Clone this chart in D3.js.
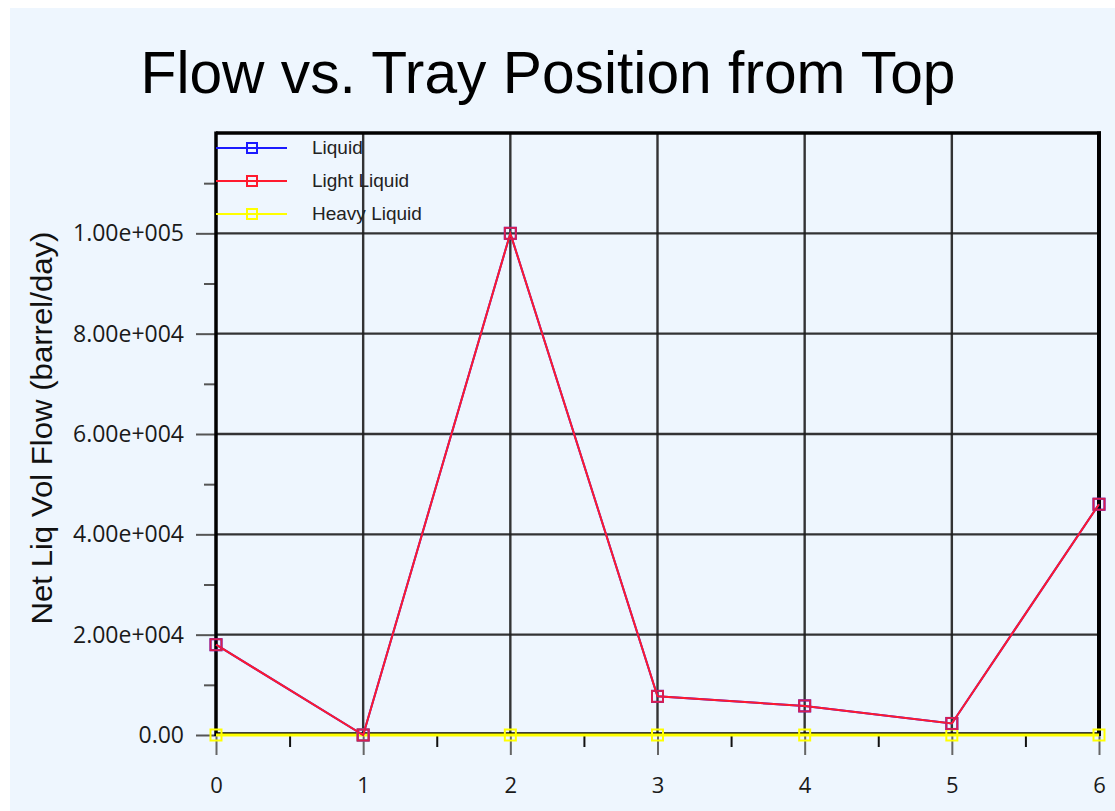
<!DOCTYPE html>
<html>
<head>
<meta charset="utf-8">
<script src="https://cdn.jsdelivr.net/npm/d3@7"></script>
<style>
  html, body { margin: 0; padding: 0; background: #ffffff; }
  svg { display: block; }
</style>
</head>
<body>
<svg id="chart" width="1115" height="811"></svg>
<script>
// Tray positions counted from the top of the column
const trays = [0, 1, 2, 3, 4, 5, 6];
// Net liquid volumetric flow per tray (barrel/day)
const liquid      = [18000, 0, 100000, 7700, 5800, 2300, 46000];
const lightLiquid = [18000, 0, 100000, 7700, 5800, 2300, 46000];
const heavyLiquid = [0, 0, 0, 0, 0, 0, 0];

const seriesNames  = ["Liquid", "Light Liquid", "Heavy Liquid"];
const seriesColors = ["#1a1aff", "#ff1a2e", "#ffff00"];
const seriesValues = [liquid, lightLiquid, heavyLiquid];

const yMajorTicks = [0, 20000, 40000, 60000, 80000, 100000];
const yTickLabels = ["0.00", "2.00e+004", "4.00e+004", "6.00e+004", "8.00e+004", "1.00e+005"];
const yMinorTicks = [10000, 30000, 50000, 70000, 90000, 110000];
const xMajorTicks = [0, 1, 2, 3, 4, 5, 6];
const xMinorTicks = [0.5, 1.5, 2.5, 3.5, 4.5, 5.5];

const svg = d3.select("#chart");
const W = 1115, H = 811;
const plot = { left: 216, right: 1099, top: 133, bottom: 735 };

// panel background
svg.append("rect")
  .attr("x", 10).attr("y", 8).attr("width", W - 10).attr("height", H - 8)
  .attr("fill", "#eef6fe");

const x = d3.scaleLinear().domain([0, 6]).range([plot.left, plot.right]);
const y = d3.scaleLinear().domain([0, 120000]).range([plot.bottom, plot.top]);

// title
svg.append("text")
  .attr("x", 548).attr("y", 93)
  .attr("text-anchor", "middle")
  .attr("font-family", "Liberation Sans, Arial, sans-serif")
  .attr("font-size", 59)
  .attr("textLength", 815)
  .attr("lengthAdjust", "spacingAndGlyphs")
  .attr("fill", "#000")
  .text("Flow vs. Tray Position from Top");

// y axis title
svg.append("text")
  .attr("transform", `translate(52,428) rotate(-90)`)
  .attr("text-anchor", "middle")
  .attr("font-family", "Liberation Sans, Arial, sans-serif")
  .attr("font-size", 30)
  .attr("textLength", 393)
  .attr("lengthAdjust", "spacingAndGlyphs")
  .attr("fill", "#111")
  .text("Net Liq Vol Flow (barrel/day)");

// grid lines
const grid = svg.append("g");
grid.selectAll("line.h")
  .data(yMajorTicks.slice(1))
  .join("line")
  .attr("x1", plot.left).attr("x2", plot.right)
  .attr("y1", d => y(d)).attr("y2", d => y(d))
  .attr("stroke", "#1e1e1e").attr("stroke-width", 2.4).attr("stroke-opacity", 0.9);
grid.selectAll("line.v")
  .data(xMajorTicks.slice(1, -1))
  .join("line")
  .attr("x1", d => x(d)).attr("x2", d => x(d))
  .attr("y1", plot.top).attr("y2", plot.bottom)
  .attr("stroke", "#1e1e1e").attr("stroke-width", 2.4).attr("stroke-opacity", 0.9);

// y axis ticks and labels
const yAxis = d3.axisLeft(y)
  .tickValues(yMajorTicks)
  .tickSize(20)
  .tickPadding(12)
  .tickFormat((d, i) => yTickLabels[i]);
const gy = svg.append("g").attr("transform", `translate(${plot.left},0)`).call(yAxis);
gy.select(".domain").remove();
gy.selectAll(".tick line").attr("stroke", "#555").attr("stroke-width", 2);
gy.selectAll(".tick text")
  .attr("font-family", "Open Sans, sans-serif")
  .attr("font-size", 23)
  .attr("fill", "#1a1a1a");
const yMinor = d3.axisLeft(y).tickValues(yMinorTicks).tickSize(12).tickFormat("");
const gym = svg.append("g").attr("transform", `translate(${plot.left},0)`).call(yMinor);
gym.select(".domain").remove();
gym.selectAll(".tick line").attr("stroke", "#555").attr("stroke-width", 2);

// x axis ticks and labels
const xAxis = d3.axisBottom(x)
  .tickValues(xMajorTicks)
  .tickSize(20)
  .tickPadding(22)
  .tickFormat(d3.format("d"));
const gx = svg.append("g").attr("transform", `translate(0,${plot.bottom})`).call(xAxis);
gx.select(".domain").remove();
gx.selectAll(".tick line").attr("stroke", "#666").attr("stroke-width", 2);
gx.selectAll(".tick text")
  .attr("font-family", "Open Sans, sans-serif")
  .attr("font-size", 22)
  .attr("fill", "#1a1a1a");
const xMinor = d3.axisBottom(x).tickValues(xMinorTicks).tickSize(12).tickFormat("");
const gxm = svg.append("g").attr("transform", `translate(0,${plot.bottom})`).call(xMinor);
gxm.select(".domain").remove();
gxm.selectAll(".tick line").attr("stroke", "#111").attr("stroke-width", 2);

// plot frame
const frame = svg.append("g").attr("stroke", "#000").attr("fill", "none");
frame.append("line").attr("x1", plot.left).attr("x2", plot.right + 2)
  .attr("y1", plot.top).attr("y2", plot.top).attr("stroke-width", 3.5);
frame.append("line").attr("x1", plot.left).attr("x2", plot.right + 2)
  .attr("y1", plot.bottom - 1).attr("y2", plot.bottom - 1).attr("stroke-width", 3.5);
frame.append("line").attr("x1", plot.left).attr("x2", plot.left)
  .attr("y1", plot.top - 1.5).attr("y2", plot.bottom + 1).attr("stroke-width", 3.5);
frame.append("line").attr("x1", plot.right).attr("x2", plot.right)
  .attr("y1", plot.top - 1.5).attr("y2", plot.bottom + 1).attr("stroke-width", 4);

// series lines and markers
const line = d3.line().x((d, i) => x(trays[i])).y(d => y(d));
const order = [2, 0, 1];
order.forEach(k => {
  const vals = seriesValues[k];
  const g = svg.append("g");
  g.append("path")
    .attr("d", line(vals))
    .attr("fill", "none")
    .attr("stroke", seriesColors[k])
    .attr("stroke-width", k === 2 ? 3 : 2);
  g.selectAll("rect")
    .data(vals)
    .join("rect")
    .attr("x", (d, i) => x(trays[i]) - 5.5)
    .attr("y", d => y(d) - 5.5)
    .attr("width", 11).attr("height", 11)
    .attr("fill", "none")
    .attr("stroke", k === 1 ? "#d81e50" : seriesColors[k])
    .attr("stroke-width", 2);
});

// legend
const legend = svg.append("g");
seriesNames.forEach((name, i) => {
  const ly = 148 + i * 33;
  legend.append("line")
    .attr("x1", plot.left).attr("x2", 287)
    .attr("y1", ly).attr("y2", ly)
    .attr("stroke", seriesColors[i]).attr("stroke-width", 2);
  legend.append("rect")
    .attr("x", 247).attr("y", ly - 5).attr("width", 10).attr("height", 10)
    .attr("fill", "none").attr("stroke", seriesColors[i]).attr("stroke-width", 2);
  legend.append("text")
    .attr("x", 312).attr("y", ly + 6)
    .attr("font-family", "Liberation Sans, Arial, sans-serif")
    .attr("font-size", 19)
    .attr("fill", "#222")
    .text(name);
});
</script>
</body>
</html>
